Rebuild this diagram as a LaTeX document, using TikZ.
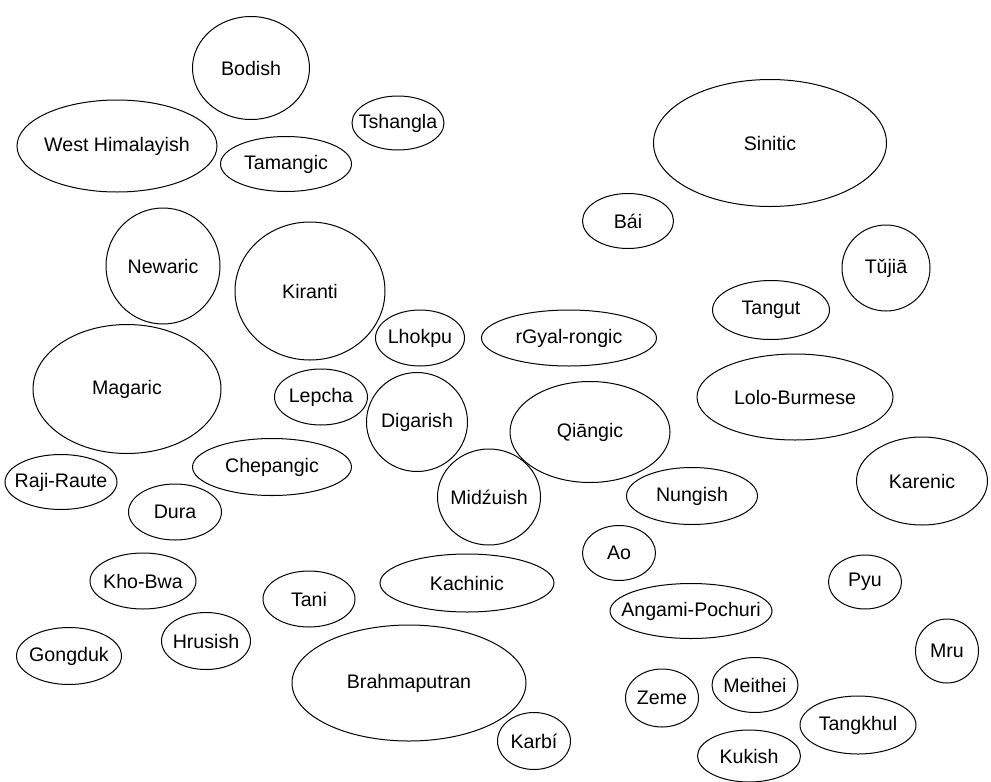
\documentclass[tikz,border=0pt]{standalone}
\usepackage{fontspec}
\setmainfont{Liberation Sans}
\usetikzlibrary{shapes.geometric}
\tikzset{lang/.style={ellipse,draw,line width=1pt,inner sep=0pt,label={[font=\fontsize{19.6}{21}\selectfont]center:#1}}}
\tikzset{size/.style 2 args={minimum width=#1pt,minimum height=#2pt}}

\begin{document}
\begin{tikzpicture}[x=1pt,y=1pt]
\useasboundingbox (0,0) rectangle (991,-782);
                \node[lang=Bodish,size={117}{103}]          (bodish)   at (251,-68)  {};
                \node[lang=West Himalayish,size={200}{92}]  (westhim)  at (117,-146) {};
                \node[lang=Tshangla,size={92}{54}]          (tshangla) at (398,-123) {};
                \node[lang=Tamangic,size={131}{55}]         (tamangic) at (286,-164) {};
                \node[lang=Sinitic,size={233}{127}]         (sinitic)  at (770,-143) {};
                \node[lang=Bái,size={91}{55}]               (bai)      at (628,-221) {};
                \node[lang=Tǔjiā,size={88}{86}]             (tujia)    at (886,-268) {};
                \node[lang=Newaric,size={114}{116}]         (newaric)  at (163,-266) {};
                \node[lang=Kiranti,size={150}{138}]         (kiranti)  at (310,-291) {};
                \node[lang=Tangut,size={117}{59}]           (tangut)   at (771,-310) {};
                \node[lang=Lhokpu,size={89}{56}]            (lhokpu)   at (420,-338) {};
                \node[lang=rGyal-rongic,size={175}{56}]     (rgyal)    at (569,-338) {};
                \node[lang=Magaric,size={188}{129}]         (magaric)  at (127,-389) {};
                \node[lang=Lepcha,size={93}{56}]            (lepcha)   at (321,-397) {};
                \node[lang=Lolo-Burmese,size={196}{86}]     (lolo)     at (795,-397) {};
                \node[lang=Digarish,size={101}{99}]         (digarish) at (417,-422) {};
                \node[lang=Qiāngic,size={160}{101}]         (qiangic)  at (590,-432) {};
                \node[lang=Chepangic,size={159}{57}]        (chepang)  at (272,-467) {};
                \node[lang=Raji-Raute,size={112}{55}]       (raji)     at (61,-482)  {};
                \node[lang=Karenic,size={131}{88}]          (karenic)  at (922,-481) {};
                \node[lang=Midźuish,size={103}{96}]         (midzu)    at (489,-497) {};
                \node[lang=Nungish,size={131}{57}]          (nungish)  at (692,-496) {};
                \node[lang=Dura,size={93}{56}]              (dura)     at (175,-512) {};
                \node[lang=Ao,size={73}{55}]                (ao)       at (619,-553) {};
                \node[lang=Kho-Bwa,size={106}{56}]          (khobwa)   at (143,-581) {};
                \node[lang=Kachinic,size={174}{58}]         (kachinic) at (467,-583) {};
                \node[lang=Tani,size={92}{56}]              (tani)     at (309,-599) {};
                \node[lang=Pyu,size={73}{54}]               (pyu)      at (865,-582) {};
                \node[lang=Angami-Pochuri,size={162}{55}]   (angami)   at (691,-611) {};
                \node[lang=Hrusish,size={89}{57}]           (hrusish)  at (206,-641) {};
                \node[lang=Gongduk,size={105}{57}]          (gongduk)  at (69,-656)  {};
                \node[lang=Brahmaputran,size={234}{116}]    (brahma)   at (409,-683) {};
                \node[lang=Mru,size={63}{64}]               (mru)      at (947,-651) {};
                \node[lang=Meithei,size={86}{55}]           (meithei)  at (755,-685) {};
                \node[lang=Zeme,size={73}{58}]              (zeme)     at (662,-698) {};
                \node[lang=Tangkhul,size={116}{58}]         (tangkhul) at (858,-725) {};
                \node[lang=Karbí,size={73}{57}]             (karbi)    at (534,-741) {};
                \node[lang=Kukish,size={103}{52}]           (kukish)   at (749,-756) {};
\end{tikzpicture}
\end{document}
